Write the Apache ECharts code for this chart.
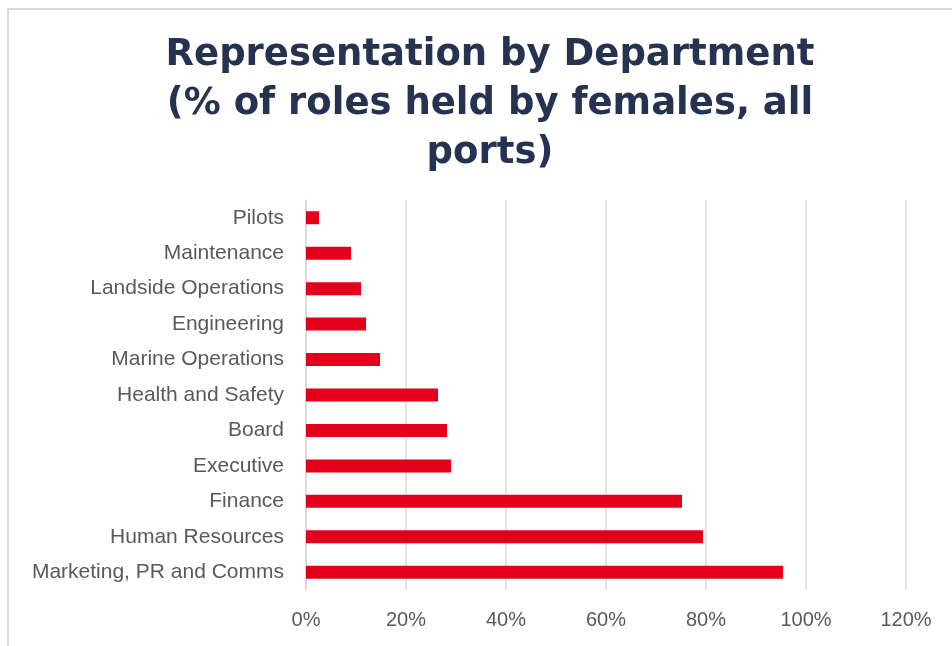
<!DOCTYPE html>
<html>
<head>
<meta charset="utf-8">
<script src="https://cdn.jsdelivr.net/npm/echarts@6/dist/echarts.min.js"></script>
<style>
    html, body { margin: 0; padding: 0; background: #fff; }
    #frame { position: absolute; left: 7px; top: 8px; width: 960px; height: 660px; border-left: 2px solid #d9d9d9; border-top: 2px solid #d9d9d9; }
    #main { position: absolute; left: 0; top: 0; width: 952px; height: 646px; }
</style>
</head>
<body>
<div id="frame"></div>
<div id="main"></div>
<script>
    // bottom to top, as drawn on the y axis
    const departments = [
        'Marketing, PR and Comms',
        'Human Resources',
        'Finance',
        'Executive',
        'Board',
        'Health and Safety',
        'Marine Operations',
        'Engineering',
        'Landside Operations',
        'Maintenance',
        'Pilots'
    ];
    const femaleShare = [0.954, 0.794, 0.752, 0.29, 0.282, 0.264, 0.148, 0.12, 0.11, 0.09, 0.026];
    const titleLines = ['Representation by Department', '(% of roles held by females, all', 'ports)'];

    const myChart = echarts.init(document.getElementById('main'));
    myChart.setOption({
        animation: false,
        title: {
            text: titleLines.join('\n'),
            left: 485,
            top: 26,
            textAlign: 'center',
            textStyle: {
                fontFamily: 'DejaVu Sans',
                fontWeight: 'bold',
                fontSize: 37,
                lineHeight: 49,
                color: '#253250'
            }
        },
        grid: {
            left: 306,
            right: 46,
            top: 200,
            bottom: 56,
            containLabel: false
        },
        xAxis: {
            type: 'value',
            min: 0,
            max: 1.2,
            interval: 0.2,
            axisLine: { show: false },
            axisTick: { show: false },
            splitLine: { lineStyle: { color: '#d9d9d9', width: 1.5 } },
            axisLabel: {
                margin: 20,
                fontFamily: 'Liberation Sans',
                fontSize: 20,
                color: '#595959',
                formatter: v => Math.round(v * 100) + '%'
            }
        },
        yAxis: {
            type: 'category',
            data: departments,
            axisLine: { show: true, lineStyle: { color: '#d9d9d9', width: 1.5 } },
            axisTick: { show: false },
            axisLabel: {
                margin: 22,
                fontFamily: 'Liberation Sans',
                fontSize: 21,
                color: '#595959'
            }
        },
        series: [
            {
                type: 'bar',
                data: femaleShare,
                barWidth: 13,
                itemStyle: { color: '#e2001a' }
            }
        ]
    });
</script>
</body>
</html>
